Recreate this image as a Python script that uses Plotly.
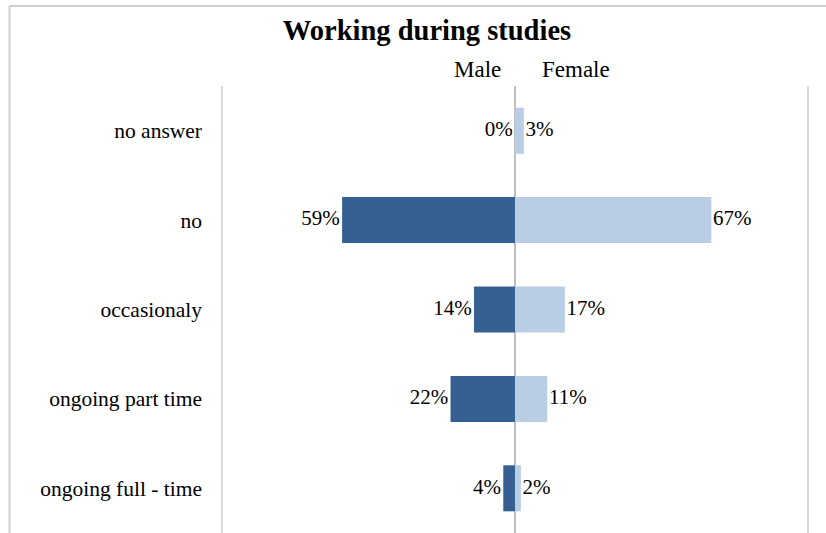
import plotly.graph_objects as go

categories = ["no answer", "no", "occasionaly", "ongoing part time", "ongoing full - time"]
male = [0, 59, 14, 22, 4]
female = [3, 67, 17, 11, 2]
male_label = "Male"
female_label = "Female"
title_text = "Working during studies"

MALE_COLOR = "#366092"
FEMALE_COLOR = "#b9cde5"
FONT = "Liberation Serif"

fig = go.Figure()
fig.add_trace(go.Bar(
    y=categories, x=[-v for v in male], orientation="h",
    marker=dict(color=MALE_COLOR, line=dict(width=0)), width=0.515,
    name=male_label, hoverinfo="skip",
))
fig.add_trace(go.Bar(
    y=categories, x=female, orientation="h",
    marker=dict(color=FEMALE_COLOR, line=dict(width=0)), width=0.515,
    name=female_label, hoverinfo="skip",
))
fig.add_trace(go.Scatter(
    y=categories, x=[-v - 0.8 for v in male], mode="text",
    text=[f"{v}%" for v in male], textposition="middle left",
    textfont=dict(family=FONT, size=21, color="#000000"), hoverinfo="skip",
))
fig.add_trace(go.Scatter(
    y=categories, x=[v + 0.6 for v in female], mode="text",
    text=[f"{v}%" for v in female], textposition="middle right",
    textfont=dict(family=FONT, size=21, color="#000000"), hoverinfo="skip",
))

# outer chart border (left and top edges visible)
border = dict(color="#d0d0d0", width=2)
fig.add_shape(type="line", xref="paper", yref="paper",
              x0=-0.3539, x1=-0.3539, y0=1.179, y1=-0.02, line=border)
fig.add_shape(type="line", xref="paper", yref="paper",
              x0=-0.3539, x1=1.04, y0=1.179, y1=1.179, line=border)

fig.add_annotation(text=male_label, xref="x", yref="paper", x=-4.1, y=1.038,
                   xanchor="right", yanchor="middle", showarrow=False,
                   font=dict(family=FONT, size=23, color="#000000"))
fig.add_annotation(text=female_label, xref="x", yref="paper", x=8.5, y=1.038,
                   xanchor="left", yanchor="middle", showarrow=False,
                   font=dict(family=FONT, size=23, color="#000000"))

fig.update_layout(
    width=826, height=533,
    margin=dict(l=219, r=15, t=86, b=0, pad=0),
    paper_bgcolor="white", plot_bgcolor="white",
    barmode="overlay", showlegend=False,
    title=dict(text=f"<b>{title_text}</b>", x=427 / 826, xanchor="center",
               y=1 - 30 / 533, yanchor="middle",
               font=dict(family=FONT, size=28.5, color="#000000")),
    xaxis=dict(range=[-101, 101], tickvals=[-100, 0, 100], showticklabels=False,
               showgrid=True, gridcolor="#d9d9d9", gridwidth=1.5,
               zeroline=True, zerolinecolor="#bfbfbf", zerolinewidth=1.5,
               fixedrange=True),
    yaxis=dict(categoryorder="array", categoryarray=categories, autorange="reversed",
               showgrid=False, zeroline=False, ticks="", ticklabelstandoff=16,
               tickfont=dict(family=FONT, size=21.5, color="#000000"), fixedrange=True),
)

fig.write_html("out.html", config={"displayModeBar": False},
               post_script="document.body.style.margin='0';")
